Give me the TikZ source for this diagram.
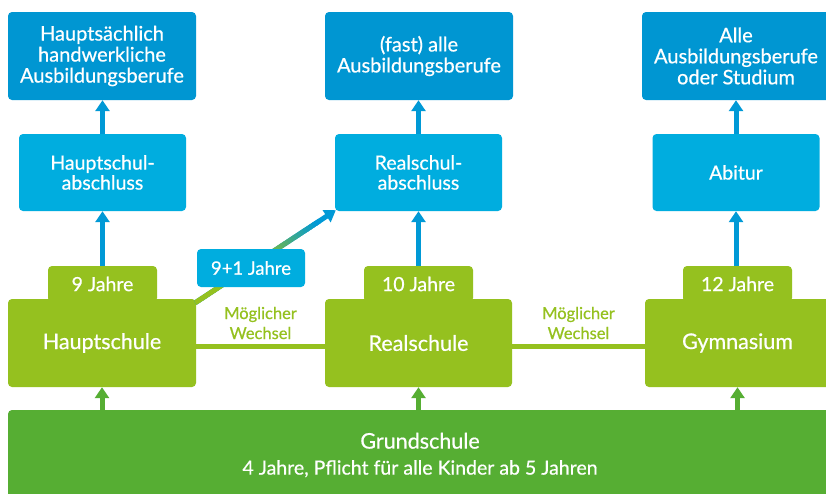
\documentclass[tikz,border=0pt]{standalone}
\usepackage{fontspec}
\setmainfont{Lato}[FakeBold=0.6]
\usetikzlibrary{arrows.meta,calc}
\definecolor{topblue}{HTML}{0096D2}
\definecolor{midblue}{HTML}{00ADDF}
\definecolor{arrblue}{HTML}{0099D6}
\definecolor{lgreen}{HTML}{95C11F}
\definecolor{dgreen}{HTML}{56AE33}
\begin{document}
\begin{tikzpicture}[x=1pt,y=-1pt,
  box/.style={rounded corners=4pt, inner sep=0pt, text=white, align=center},
  topbox/.style={box, fill=topblue, minimum width=188pt, minimum height=88pt, font=\fontsize{20}{21}\selectfont},
  midbox/.style={box, fill=midblue, minimum width=167pt, minimum height=77pt, font=\fontsize{19.5}{20}\selectfont},
  school/.style={box, fill=lgreen, minimum height=88pt, font=\fontsize{21.5}{22}\selectfont},
  tab/.style={box, fill=lgreen, minimum width=109pt, minimum height=36pt, font=\fontsize{19.5}{20}\selectfont},
  barrow/.style={line width=5pt, arrblue, -{Triangle[width=14pt,length=11pt]}},
  garrow/.style={line width=5pt, dgreen, -{Triangle[width=14pt,length=11pt]}},
  wechsel/.style={line width=5pt, lgreen},
  wlabel/.style={text=lgreen, align=center, inner sep=0pt, font=\fontsize{16.5}{20}\selectfont}
]
\useasboundingbox (0,0) rectangle (826,493);
\clip (0,0) rectangle (826,493);
\fill[white] (0,0) rectangle (826,493);

% top boxes
\node[topbox] (t1) at (102,56) {Hauptsächlich\\handwerkliche\\Ausbildungsberufe};
\node[topbox] (t2) at (419,56) {(fast) alle\\Ausbildungsberufe};
\node[topbox] (t3) at (736,56) {Alle\\Ausbildungsberufe\\oder Studium};

% middle boxes
\node[midbox] (m1) at (102.5,172.5) {Hauptschul-\\abschluss};
\node[midbox] (m2) at (418.5,172.5) {Realschul-\\abschluss};
\node[midbox] (m3) at (736,172.5) {Abitur};

% schools
\node[school, minimum width=188pt] (s1) at (102,343) {Hauptschule};
\node[school, minimum width=187pt] (s2) at (418.5,343) {Realschule};
\node[school, minimum width=185pt] (s3) at (737.5,343) {Gymnasium};

% tabs
\node[tab] (a1) at (102.5,284) {9 Jahre};
\node[tab] (a2) at (418.5,284) {10 Jahre};
\node[tab] (a3) at (737.5,284) {12 Jahre};

% Grundschule
\node[box, fill=dgreen, minimum width=822pt, minimum height=90pt] (g) at (419,455) {};
\node[text=white, align=center, inner sep=0pt, font=\fontsize{21.5}{26}\selectfont] (gt) at (420,455) {Grundschule\\{\fontsize{19.5}{26}\selectfont 4 Jahre, Pflicht für alle Kinder ab 5 Jahren}};

% arrows
\draw[barrow] (m1.north) -- (m1.north |- t1.south);
\draw[barrow] (m2.north) -- (m2.north |- t2.south);
\draw[barrow] (m3.north) -- (m3.north |- t3.south);
\draw[barrow] (m1.south |- a1.north) -- (m1.south);
\draw[barrow] (m2.south |- a2.north) -- (m2.south);
\draw[barrow] (m3.south |- a3.north) -- (m3.south);
\draw[garrow] (s1.south |- g.north) -- (s1.south);
\draw[garrow] (s2.south |- g.north) -- (s2.south);
\draw[garrow] (s3.south |- g.north) -- (s3.south);

% possible changes
\draw[wechsel] ([yshift=-3pt]s1.east) -- ([yshift=-3pt]s2.west)
  node[wlabel, midway, yshift=23pt] (w1) {Möglicher\\Wechsel};
\draw[wechsel] ([yshift=-3pt]s2.east) -- ([yshift=-3pt]s3.west)
  node[wlabel, midway, yshift=23pt] (w2) {Möglicher\\Wechsel};

% diagonal 9+1 arrow
\coordinate (ds) at ($(s1.north east)+(-1,4)$);
\coordinate (de) at ($(m2.south west)+(1,-1)$);
\draw[barrow] (ds) -- (de);
\foreach \i in {0,...,39}{
  \pgfmathsetmacro\ta{\i/40*0.88}
  \pgfmathsetmacro\tb{(\i+1.3)/40*0.88}
  \pgfmathtruncatemacro\p{\ta<0.45 ? 100 : max(0,100-(\ta-0.45)/0.4*100)}
  \draw[line width=5pt, color=lgreen!\p!arrblue] ($(ds)!\ta!(de)$) -- ($(ds)!\tb!(de)$);
}
\node[box, fill=midblue, minimum width=108pt, minimum height=38pt, font=\fontsize{18.5}{20}\selectfont] (n91) at (251,268) {9+1 Jahre};
\end{tikzpicture}
\end{document}
